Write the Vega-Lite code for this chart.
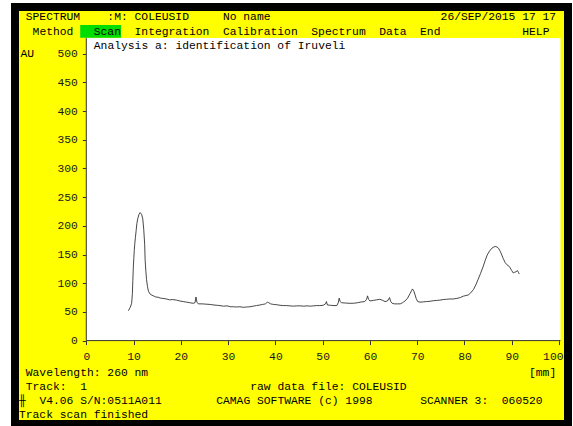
{
  "$schema": "https://vega.github.io/schema/vega-lite/v6.json",
  "width": 553,
  "height": 417,
  "autosize": {"type": "none"},
  "padding": {"left": 15, "top": 7, "right": 5, "bottom": 2},
  "background": "white",
  "config": {
    "view": {"fill": "#ffff00", "stroke": "#000000", "strokeWidth": 8},
    "text": {"font": "Liberation Mono", "fontSize": 11.33, "fontWeight": "normal", "fill": "#000000", "align": "left", "baseline": "middle"},
    "axis": {"labelFont": "Liberation Mono", "labelFontSize": 11.33, "labelColor": "#1a1a1a", "tickColor": "#333333", "tickSize": 4, "domain": false, "grid": false, "zindex": 1, "titleFont": "Liberation Mono", "titleFontSize": 11.33, "titleFontWeight": "normal", "titleColor": "#000000"}
  },
  "datasets": {
    "one": [{}],
    "trace": [
    {"mm": 8.9, "au": 52}, {"mm": 9.3, "au": 58}, {"mm": 9.6, "au": 65}, {"mm": 9.75, "au": 82}, {"mm": 9.85, "au": 105},
    {"mm": 9.95, "au": 128}, {"mm": 10.05, "au": 143}, {"mm": 10.15, "au": 157}, {"mm": 10.25, "au": 168}, {"mm": 10.4, "au": 180},
    {"mm": 10.55, "au": 192}, {"mm": 10.7, "au": 204}, {"mm": 10.9, "au": 213}, {"mm": 11.15, "au": 220}, {"mm": 11.4, "au": 223},
    {"mm": 11.7, "au": 220}, {"mm": 11.95, "au": 212}, {"mm": 12.15, "au": 194}, {"mm": 12.35, "au": 168}, {"mm": 12.45, "au": 140},
    {"mm": 12.6, "au": 121}, {"mm": 12.75, "au": 106}, {"mm": 12.95, "au": 94}, {"mm": 13.15, "au": 86}, {"mm": 13.5, "au": 81},
    {"mm": 13.9, "au": 79}, {"mm": 14.2, "au": 78}, {"mm": 14.7, "au": 76}, {"mm": 15.2, "au": 75.5}, {"mm": 15.7, "au": 74},
    {"mm": 16.2, "au": 73.5}, {"mm": 17.0, "au": 72.5}, {"mm": 17.6, "au": 71}, {"mm": 18.3, "au": 71.5}, {"mm": 19.1, "au": 70.5},
    {"mm": 19.8, "au": 69}, {"mm": 20.5, "au": 68}, {"mm": 21.2, "au": 67}, {"mm": 21.9, "au": 66}, {"mm": 22.6, "au": 65},
    {"mm": 23.0, "au": 66}, {"mm": 23.2, "au": 76}, {"mm": 23.4, "au": 67}, {"mm": 23.7, "au": 64}, {"mm": 24.5, "au": 64},
    {"mm": 25.3, "au": 63.5}, {"mm": 26.2, "au": 63}, {"mm": 27.0, "au": 62}, {"mm": 27.7, "au": 61.5}, {"mm": 28.3, "au": 61},
    {"mm": 29.0, "au": 60}, {"mm": 29.8, "au": 60.5}, {"mm": 30.5, "au": 59}, {"mm": 31.1, "au": 59}, {"mm": 31.8, "au": 58.5},
    {"mm": 32.5, "au": 59}, {"mm": 33.2, "au": 58}, {"mm": 33.9, "au": 58.5}, {"mm": 34.6, "au": 59}, {"mm": 35.3, "au": 60},
    {"mm": 36.0, "au": 61}, {"mm": 36.7, "au": 62}, {"mm": 37.3, "au": 63}, {"mm": 37.9, "au": 64}, {"mm": 38.3, "au": 67},
    {"mm": 38.6, "au": 66}, {"mm": 39.0, "au": 64}, {"mm": 39.6, "au": 63}, {"mm": 40.3, "au": 62.5}, {"mm": 41.0, "au": 61.5},
    {"mm": 41.7, "au": 61}, {"mm": 42.4, "au": 61}, {"mm": 43.1, "au": 60.5}, {"mm": 43.8, "au": 60}, {"mm": 44.5, "au": 60.5},
    {"mm": 45.2, "au": 60.5}, {"mm": 46.0, "au": 60}, {"mm": 46.7, "au": 60.5}, {"mm": 47.4, "au": 60}, {"mm": 48.0, "au": 60.5},
    {"mm": 48.7, "au": 61}, {"mm": 49.4, "au": 61}, {"mm": 50.1, "au": 61.5}, {"mm": 50.6, "au": 64}, {"mm": 50.8, "au": 68},
    {"mm": 51.0, "au": 62}, {"mm": 51.7, "au": 61.5}, {"mm": 52.4, "au": 61}, {"mm": 53.0, "au": 61}, {"mm": 53.3, "au": 66},
    {"mm": 53.5, "au": 74}, {"mm": 53.7, "au": 68}, {"mm": 54.0, "au": 66}, {"mm": 54.8, "au": 65.5}, {"mm": 55.6, "au": 65},
    {"mm": 56.5, "au": 65}, {"mm": 57.4, "au": 66}, {"mm": 58.3, "au": 67.5}, {"mm": 58.9, "au": 68}, {"mm": 59.3, "au": 72},
    {"mm": 59.5, "au": 78}, {"mm": 59.7, "au": 72}, {"mm": 60.0, "au": 69}, {"mm": 60.7, "au": 70}, {"mm": 61.4, "au": 71},
    {"mm": 62.1, "au": 72}, {"mm": 62.7, "au": 70}, {"mm": 63.2, "au": 68}, {"mm": 63.7, "au": 69}, {"mm": 64.0, "au": 73},
    {"mm": 64.15, "au": 75}, {"mm": 64.4, "au": 68}, {"mm": 64.7, "au": 65}, {"mm": 65.2, "au": 64}, {"mm": 65.8, "au": 64},
    {"mm": 66.4, "au": 64}, {"mm": 66.9, "au": 66}, {"mm": 67.4, "au": 69}, {"mm": 67.9, "au": 73}, {"mm": 68.5, "au": 82},
    {"mm": 68.8, "au": 87}, {"mm": 69.0, "au": 90}, {"mm": 69.3, "au": 86}, {"mm": 69.5, "au": 81}, {"mm": 69.8, "au": 73},
    {"mm": 70.1, "au": 68}, {"mm": 70.6, "au": 67}, {"mm": 71.3, "au": 67.5}, {"mm": 72.0, "au": 68}, {"mm": 72.7, "au": 68.5},
    {"mm": 73.4, "au": 69.5}, {"mm": 74.1, "au": 70}, {"mm": 74.8, "au": 70.5}, {"mm": 75.5, "au": 71.5}, {"mm": 76.2, "au": 72},
    {"mm": 76.9, "au": 72.5}, {"mm": 77.6, "au": 72.5}, {"mm": 78.4, "au": 73.5}, {"mm": 79.1, "au": 75}, {"mm": 79.8, "au": 77.5},
    {"mm": 80.3, "au": 78.5}, {"mm": 80.8, "au": 79.5}, {"mm": 81.3, "au": 83}, {"mm": 81.9, "au": 89}, {"mm": 82.4, "au": 97},
    {"mm": 82.9, "au": 107}, {"mm": 83.4, "au": 117}, {"mm": 84.0, "au": 130}, {"mm": 84.4, "au": 140}, {"mm": 84.8, "au": 149},
    {"mm": 85.3, "au": 156}, {"mm": 85.8, "au": 161}, {"mm": 86.2, "au": 163}, {"mm": 86.5, "au": 164}, {"mm": 86.9, "au": 163},
    {"mm": 87.2, "au": 161}, {"mm": 87.6, "au": 155}, {"mm": 87.9, "au": 149}, {"mm": 88.2, "au": 143}, {"mm": 88.6, "au": 136},
    {"mm": 89.0, "au": 132}, {"mm": 89.5, "au": 129}, {"mm": 90.0, "au": 122}, {"mm": 90.3, "au": 118}, {"mm": 90.6, "au": 119},
    {"mm": 90.9, "au": 120}, {"mm": 91.2, "au": 122}, {"mm": 91.4, "au": 119}, {"mm": 91.6, "au": 116}
    ]
  },
  "data": {"name": "one"},
  "layer": [
    {
      "mark": {"type": "rect", "fill": "#ffffff"},
      "encoding": {
        "x": {"datum": 0, "type": "quantitative", "scale": {"domain": [-15.08, 101.9], "nice": false, "zero": false},
              "axis": {"values": [0, 10, 20, 30, 40, 50, 60, 70, 80, 90, 100], "offset": -83.4, "labelPadding": 6, "labelAngle": 0, "title": null,
                       "labelAlign": {"condition": {"test": "datum.value === 100", "value": "right"}, "value": "center"},
                       "labelOffset": {"condition": {"test": "datum.value === 100", "value": 4}, "value": 0}}},
        "x2": {"datum": 100.3},
        "y": {"datum": 0, "type": "quantitative", "scale": {"domain": [-145.3, 581.2], "nice": false, "zero": false},
              "axis": {"values": [0, 50, 100, 150, 200, 250, 300, 350, 400, 450, 500], "offset": -71.3, "labelPadding": 5,
                       "title": "AU", "titleAngle": 0, "titleAlign": "left", "titleBaseline": "middle", "titleX": -66.3, "titleY": 46}},
        "y2": {"datum": 527}
      }
    },
    {
      "mark": {"type": "rect", "fill": "#00dd00"},
      "encoding": {
        "x": {"datum": -1.29, "type": "quantitative"}, "x2": {"datum": 7.34},
        "y": {"datum": 527.5, "type": "quantitative"}, "y2": {"datum": 549.8}
      }
    },
    {
      "mark": {"type": "rule", "color": "#333333", "strokeWidth": 1},
      "encoding": {"x": {"datum": 0, "type": "quantitative"}, "y": {"datum": 0, "type": "quantitative"}, "y2": {"datum": 527}}
    },
    {
      "mark": {"type": "rule", "color": "#333333", "strokeWidth": 1},
      "encoding": {"y": {"datum": 0, "type": "quantitative"}, "x": {"datum": 0, "type": "quantitative"}, "x2": {"datum": 100.3}}
    },
    {
      "data": {"name": "trace"},
      "mark": {"type": "line", "color": "#333333", "strokeWidth": 0.9},
      "encoding": {
        "x": {"field": "mm", "type": "quantitative"},
        "y": {"field": "au", "type": "quantitative"}
      }
    },
    {"mark": {"type": "text", "text": "SPECTRUM\u00a0\u00a0\u00a0\u00a0:M:\u00a0COLEUSID\u00a0\u00a0\u00a0\u00a0\u00a0No\u00a0name"},
     "encoding": {"x": {"datum": -12.80, "type": "quantitative"}, "y": {"datum": 563.2, "type": "quantitative"}}},
    {"mark": {"type": "text", "text": "26/SEP/2015\u00a017\u00a017"},
     "encoding": {"x": {"datum": 74.95, "type": "quantitative"}, "y": {"datum": 563.2, "type": "quantitative"}}},
    {"mark": {"type": "text", "text": "Method\u00a0\u00a0\u00a0Scan\u00a0\u00a0Integration\u00a0\u00a0Calibration\u00a0\u00a0Spectrum\u00a0\u00a0Data\u00a0\u00a0End"},
     "encoding": {"x": {"datum": -11.36, "type": "quantitative"}, "y": {"datum": 538.0, "type": "quantitative"}}},
    {"mark": {"type": "text", "text": "HELP"},
     "encoding": {"x": {"datum": 92.22, "type": "quantitative"}, "y": {"datum": 538.0, "type": "quantitative"}}},
    {"mark": {"type": "text", "text": "Analysis\u00a0a:\u00a0identification\u00a0of\u00a0Iruveli"},
     "encoding": {"x": {"datum": 1.59, "type": "quantitative"}, "y": {"datum": 513.6, "type": "quantitative"}}},
    {"mark": {"type": "text", "text": "Wavelength:\u00a0260\u00a0nm"},
     "encoding": {"x": {"datum": -12.80, "type": "quantitative"}, "y": {"datum": -56.4, "type": "quantitative"}}},
    {"mark": {"type": "text", "text": "[mm]"},
     "encoding": {"x": {"datum": 93.65, "type": "quantitative"}, "y": {"datum": -56.4, "type": "quantitative"}}},
    {"mark": {"type": "text", "text": "Track:\u00a0\u00a01"},
     "encoding": {"x": {"datum": -12.80, "type": "quantitative"}, "y": {"datum": -80.8, "type": "quantitative"}}},
    {"mark": {"type": "text", "text": "raw\u00a0data\u00a0file:\u00a0COLEUSID"},
     "encoding": {"x": {"datum": 34.67, "type": "quantitative"}, "y": {"datum": -80.8, "type": "quantitative"}}},
    {"mark": {"type": "text", "text": "╫"},
     "encoding": {"x": {"datum": -14.24, "type": "quantitative"}, "y": {"datum": -105.2, "type": "quantitative"}}},
    {"mark": {"type": "text", "text": "V4.06\u00a0S/N:0511A011"},
     "encoding": {"x": {"datum": -9.92, "type": "quantitative"}, "y": {"datum": -105.2, "type": "quantitative"}}},
    {"mark": {"type": "text", "text": "CAMAG\u00a0SOFTWARE\u00a0(c)\u00a01998"},
     "encoding": {"x": {"datum": 27.48, "type": "quantitative"}, "y": {"datum": -105.2, "type": "quantitative"}}},
    {"mark": {"type": "text", "text": "SCANNER\u00a03:\u00a0\u00a0060520"},
     "encoding": {"x": {"datum": 70.64, "type": "quantitative"}, "y": {"datum": -105.2, "type": "quantitative"}}},
    {"mark": {"type": "text", "text": "Track\u00a0scan\u00a0finished"},
     "encoding": {"x": {"datum": -14.24, "type": "quantitative"}, "y": {"datum": -129.6, "type": "quantitative"}}}
  ]
}
